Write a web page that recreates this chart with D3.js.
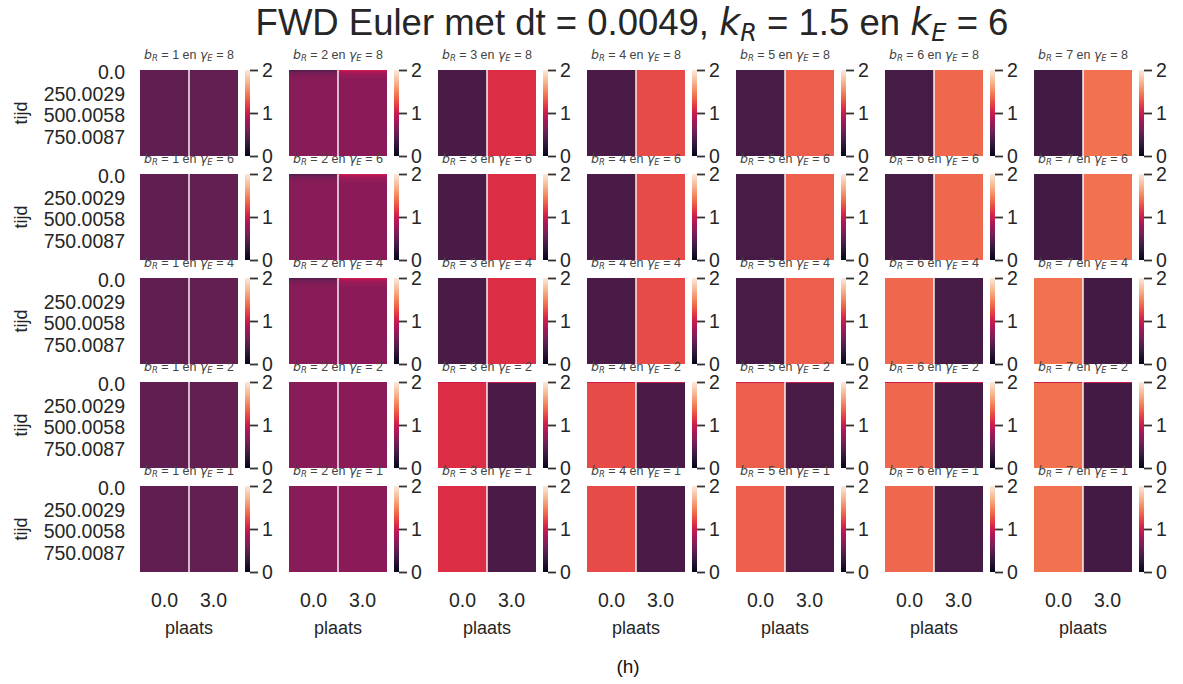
<!DOCTYPE html>
<html>
<head>
<meta charset="utf-8">
<script src="https://cdn.jsdelivr.net/npm/d3@7"></script>
<style>
  body { margin: 0; background: #fff; }
  text { font-family: "Liberation Sans", Arial, sans-serif; }
</style>
</head>
<body>
<svg id="fig" width="1183" height="684"></svg>
<script>
// ---- data ----
const bR = [1, 2, 3, 4, 5, 6, 7];
const gammaE = [8, 6, 4, 2, 1];
const plaatsLabels = ["0.0", "3.0"];
const tijdTicks = [0, 250.0029, 500.0058, 750.0087];
const tijdTickLabels = ["0.0", "250.0029", "500.0058", "750.0087"];
const tEind = 1000.0116;
const kleurTicks = [0, 1, 2];

// value after the start-up, plaats 0.0 (rows: gammaE, columns: bR)
const eindLinks = [
  [0.50, 0.68, 0.39, 0.39, 0.38, 0.37, 0.35],
  [0.50, 0.68, 0.39, 0.39, 0.38, 0.37, 0.35],
  [0.50, 0.68, 0.39, 0.39, 0.38, 1.37, 1.41],
  [0.50, 0.68, 1.11, 1.24, 1.33, 1.37, 1.41],
  [0.50, 0.68, 1.11, 1.24, 1.33, 1.37, 1.41]
];
// value after the start-up, plaats 3.0
const eindRechts = [
  [0.51, 0.70, 1.11, 1.24, 1.33, 1.37, 1.41],
  [0.51, 0.70, 1.11, 1.24, 1.33, 1.37, 1.41],
  [0.51, 0.70, 1.11, 1.24, 1.33, 0.37, 0.35],
  [0.51, 0.70, 0.39, 0.39, 0.38, 0.37, 0.35],
  [0.51, 0.70, 0.39, 0.39, 0.38, 0.37, 0.35]
];

// start-up rows for b_R = 2 at gamma_E = 8, 6, 4
const aanloopTijd   = [0, 12, 24, 36, 50, 66, 84];
const aanloopLinks  = [0.45, 0.51, 0.56, 0.60, 0.63, 0.655, 0.67];
const aanloopRechts = [1.00, 0.91, 0.85, 0.80, 0.76, 0.73, 0.715];
const aanloopEinde  = 100;
const aanloopPanelen = [[8, 2], [6, 2], [4, 2]];

// first time row at gamma_E = 2 (b_R = 3..7)
const beginRijPanelen = [[2, 3], [2, 4], [2, 5], [2, 6], [2, 7]];
const beginRijEinde = 8;
const beginRijWaarde = 1.0;

// ---- layout ----
const svg = d3.select("#fig");
const x0 = 140, xStap = 149, hmW = 98;
const y0 = 70, yStap = 104, hmH = 86;
const cbGap = 7, cbW = 5;
const tekstKleur = "#262626";
const tickFont = "Liberation Sans, Arial, sans-serif";

// rocket colour map, value range 0..2
const rocketKleuren = ["#03051a", "#35193e", "#701f57", "#ad1759", "#cb1b4f",
                       "#e13342", "#f37651", "#f6b48f", "#faebdd"];
const rocketDomein = [0, 2/7, 4/7, 6/7, 1, 8/7, 10/7, 12/7, 2];
const kleur = d3.scaleLinear().domain(rocketDomein).range(rocketKleuren)
  .interpolate(d3.interpolateRgb).clamp(true);

// shared colorbar gradient
const defs = svg.append("defs");
const grad = defs.append("linearGradient").attr("id", "rocket")
  .attr("x1", 0).attr("y1", 1).attr("x2", 0).attr("y2", 0);
d3.range(0, 1.0001, 0.02).forEach(f => {
  grad.append("stop").attr("offset", f).attr("stop-color", kleur(f * 2));
});

const inLijst = (lijst, g, b) => lijst.some(p => p[0] === g && p[1] === b);

function panelRijen(g, b) {
  const ri = gammaE.indexOf(g), ci = bR.indexOf(b);
  const rijen = [];
  let start = 0;
  if (inLijst(aanloopPanelen, g, b)) {
    aanloopTijd.forEach((t, i) => {
      const t1 = i + 1 < aanloopTijd.length ? aanloopTijd[i + 1] : aanloopEinde;
      rijen.push({ t0: t, t1: t1, waarden: [aanloopLinks[i], aanloopRechts[i]] });
    });
    start = aanloopEinde;
  } else if (inLijst(beginRijPanelen, g, b)) {
    rijen.push({ t0: 0, t1: beginRijEinde, waarden: [beginRijWaarde, beginRijWaarde] });
    start = beginRijEinde;
  }
  rijen.push({ t0: start, t1: tEind, waarden: [eindLinks[ri][ci], eindRechts[ri][ci]] });
  return rijen;
}

function mathTitel(sel, b, g, sub) {
  const mathFont = "DejaVu Sans";
  sel.append("tspan").attr("font-family", mathFont).attr("font-style", "italic").text("b");
  sel.append("tspan").attr("font-family", mathFont).attr("font-style", "italic")
    .attr("font-size", sub).attr("dy", 2).text("R");
  sel.append("tspan").attr("dy", -2).text(" = " + b + " en ");
  sel.append("tspan").attr("font-family", mathFont).attr("font-style", "italic").text("γ");
  sel.append("tspan").attr("font-family", mathFont).attr("font-style", "italic")
    .attr("font-size", sub).attr("dy", 2).text("E");
  sel.append("tspan").attr("dy", -2).text(" = " + g);
}

gammaE.forEach((g, ri) => {
  bR.forEach((b, ci) => {
    const px = x0 + ci * xStap;
    const py = y0 + ri * yStap;
    const xS = d3.scaleBand().domain(plaatsLabels).range([px, px + hmW]);
    const yS = d3.scaleLinear().domain([0, tEind]).range([py, py + hmH]);
    const panel = svg.append("g");

    // heatmap cells
    const cellen = panel.append("g").attr("shape-rendering", "crispEdges");
    panelRijen(g, b).forEach(r => {
      plaatsLabels.forEach((p, k) => {
        cellen.append("rect")
          .attr("x", xS(p)).attr("width", xS.bandwidth())
          .attr("y", yS(r.t0)).attr("height", yS(r.t1) - yS(r.t0))
          .attr("fill", kleur(r.waarden[k]));
      });
    });
    // white divider between the two places
    panel.append("line")
      .attr("x1", xS(plaatsLabels[1])).attr("x2", xS(plaatsLabels[1]))
      .attr("y1", py).attr("y2", py + hmH)
      .attr("stroke", "#fff").attr("stroke-width", 1.4);

    // panel title
    const t = panel.append("text")
      .attr("x", px + hmW / 2).attr("y", py - 11)
      .attr("text-anchor", "middle").attr("font-size", 12.5).attr("fill", "#444");
    mathTitel(t, b, g, 8.5);

    // colorbar
    const cx = px + hmW + cbGap;
    panel.append("rect").attr("x", cx).attr("y", py).attr("width", cbW).attr("height", hmH)
      .attr("fill", "url(#rocket)");
    const cS = d3.scaleLinear().domain([0, 2]).range([py + hmH, py]);
    const cAx = panel.append("g").attr("transform", `translate(${cx + cbW},0)`)
      .call(d3.axisRight(cS).tickValues(kleurTicks).tickFormat(d3.format("d"))
        .tickSize(8).tickPadding(4));
    cAx.select(".domain").remove();
    cAx.selectAll("line").attr("stroke", "#333").attr("stroke-width", 1.8);
    cAx.selectAll("text").attr("font-size", 19.5).attr("fill", tekstKleur)
      .attr("font-family", tickFont);

    // y axis on first column
    if (ci === 0) {
      const yAx = panel.append("g").attr("transform", `translate(${px},0)`)
        .call(d3.axisLeft(yS).tickValues(tijdTicks)
          .tickFormat((d, i) => tijdTickLabels[i]).tickSize(0).tickPadding(15));
      yAx.select(".domain").remove();
      yAx.selectAll("text").attr("font-size", 19.5).attr("fill", tekstKleur)
        .attr("font-family", tickFont).attr("dy", "0.45em");
      panel.append("text")
        .attr("transform", `translate(27,${py + hmH / 2}) rotate(-90)`)
        .attr("text-anchor", "middle").attr("font-size", 18).attr("fill", tekstKleur)
        .text("tijd");
    }

    // x axis on bottom row
    if (ri === gammaE.length - 1) {
      const xAx = panel.append("g").attr("transform", `translate(0,${py + hmH})`)
        .call(d3.axisBottom(xS).tickSize(0).tickPadding(21));
      xAx.select(".domain").remove();
      xAx.selectAll("text").attr("font-size", 19.5).attr("fill", tekstKleur)
        .attr("font-family", tickFont);
      panel.append("text")
        .attr("x", px + hmW / 2).attr("y", py + hmH + 62)
        .attr("text-anchor", "middle").attr("font-size", 18).attr("fill", tekstKleur)
        .text("plaats");
    }
  });
});

// figure title
const titel = svg.append("text").attr("x", 632).attr("y", 35)
  .attr("text-anchor", "middle").attr("font-size", 36.5).attr("fill", tekstKleur);
titel.append("tspan").text("FWD Euler met dt = 0.0049, ");
titel.append("tspan").attr("font-family", "DejaVu Sans").attr("font-style", "italic").text("k");
titel.append("tspan").attr("font-family", "DejaVu Sans").attr("font-style", "italic")
  .attr("font-size", 24).attr("dy", 6).text("R");
titel.append("tspan").attr("dy", -6).text(" = 1.5 en ");
titel.append("tspan").attr("font-family", "DejaVu Sans").attr("font-style", "italic").text("k");
titel.append("tspan").attr("font-family", "DejaVu Sans").attr("font-style", "italic")
  .attr("font-size", 24).attr("dy", 6).text("E");
titel.append("tspan").attr("dy", -6).text(" = 6");

// caption
svg.append("text").attr("x", 628).attr("y", 673).attr("text-anchor", "middle")
  .attr("font-family", "Liberation Serif, serif").attr("font-size", 19).attr("fill", "#111")
  .text("(h)");
</script>
</body>
</html>
